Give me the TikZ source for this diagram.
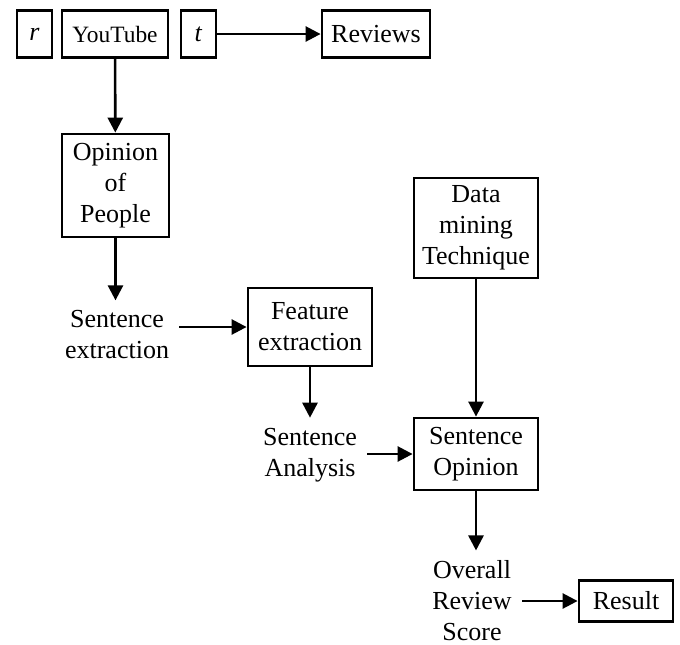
\documentclass[tikz,border=0pt]{standalone}
\usepackage{fontspec}
\setmainfont{Liberation Serif}
\usetikzlibrary{arrows.meta}
\tikzset{>={Triangle[length=7.5pt,width=7.5pt]}}
\tikzset{%
    blockbox/.style={draw, line width=1.4pt, align=center, inner sep=0pt,
        font=\fontsize{13}{15.5}\selectfont},
    plaintext/.style={align=center, inner sep=5pt,
        font=\fontsize{13}{15.5}\selectfont},
    flow/.style={->, line width=1.3pt}
}

\begin{document}
\begin{tikzpicture}[x=0.5pt,y=-0.5pt]
    \useasboundingbox (0,0) rectangle (680,644);
    % top row
    \node[blockbox, minimum width=17.5pt, minimum height=23.5pt] (r) at (34.5,34) {\textit{r}};
    \node[blockbox, minimum width=53pt, minimum height=23.5pt, font=\fontsize{11.7}{14}\selectfont] (youtube) at (115,34) {YouTube};
    \node[blockbox, minimum width=17.5pt, minimum height=23.5pt] (t) at (198.5,34) {\textit{t}};
    \node[blockbox, minimum width=54pt, minimum height=23.5pt] (reviews) at (376,34) {Reviews};
    % left column
    \node[blockbox, minimum width=53.5pt, minimum height=51.5pt] (opinion) at (115.5,185.5) {Opinion\\of\\People};
    \node[plaintext] (sentext) at (117,335) {Sentence\\extraction};
    \node[blockbox, minimum width=62pt, minimum height=39pt] (feature) at (310,327) {Feature\\extraction};
    \node[plaintext] (analysis) at (310,455) {Sentence\\Analysis};
    % right column
    \node[blockbox, minimum width=62pt, minimum height=50pt] (mining) at (476,228) {Data\\mining\\Technique};
    \node[blockbox, minimum width=62pt, minimum height=36pt] (sentop) at (476,454) {Sentence\\Opinion};
    \node[plaintext] (overall) at (472,601) {Overall\\Review\\Score};
    \node[blockbox, minimum width=47pt, minimum height=20.5pt] (result) at (626,601) {Result};
    % connectors
    \draw[flow] (t) -- (reviews);
    \draw[flow] (youtube) -- (opinion);
    \draw[flow] (opinion.south) -- (opinion.south |- sentext.north);
    \draw[flow] (sentext.east |- feature.west) -- (feature.west);
    \draw[flow] (feature) -- (feature.south |- analysis.north);
    \draw[flow] (analysis.east |- sentop.west) -- (sentop.west);
    \draw[flow] (mining) -- (sentop);
    \draw[flow] (sentop.south) -- (sentop.south |- overall.north);
    \draw[flow] (overall) -- (result);
\end{tikzpicture}
\end{document}
